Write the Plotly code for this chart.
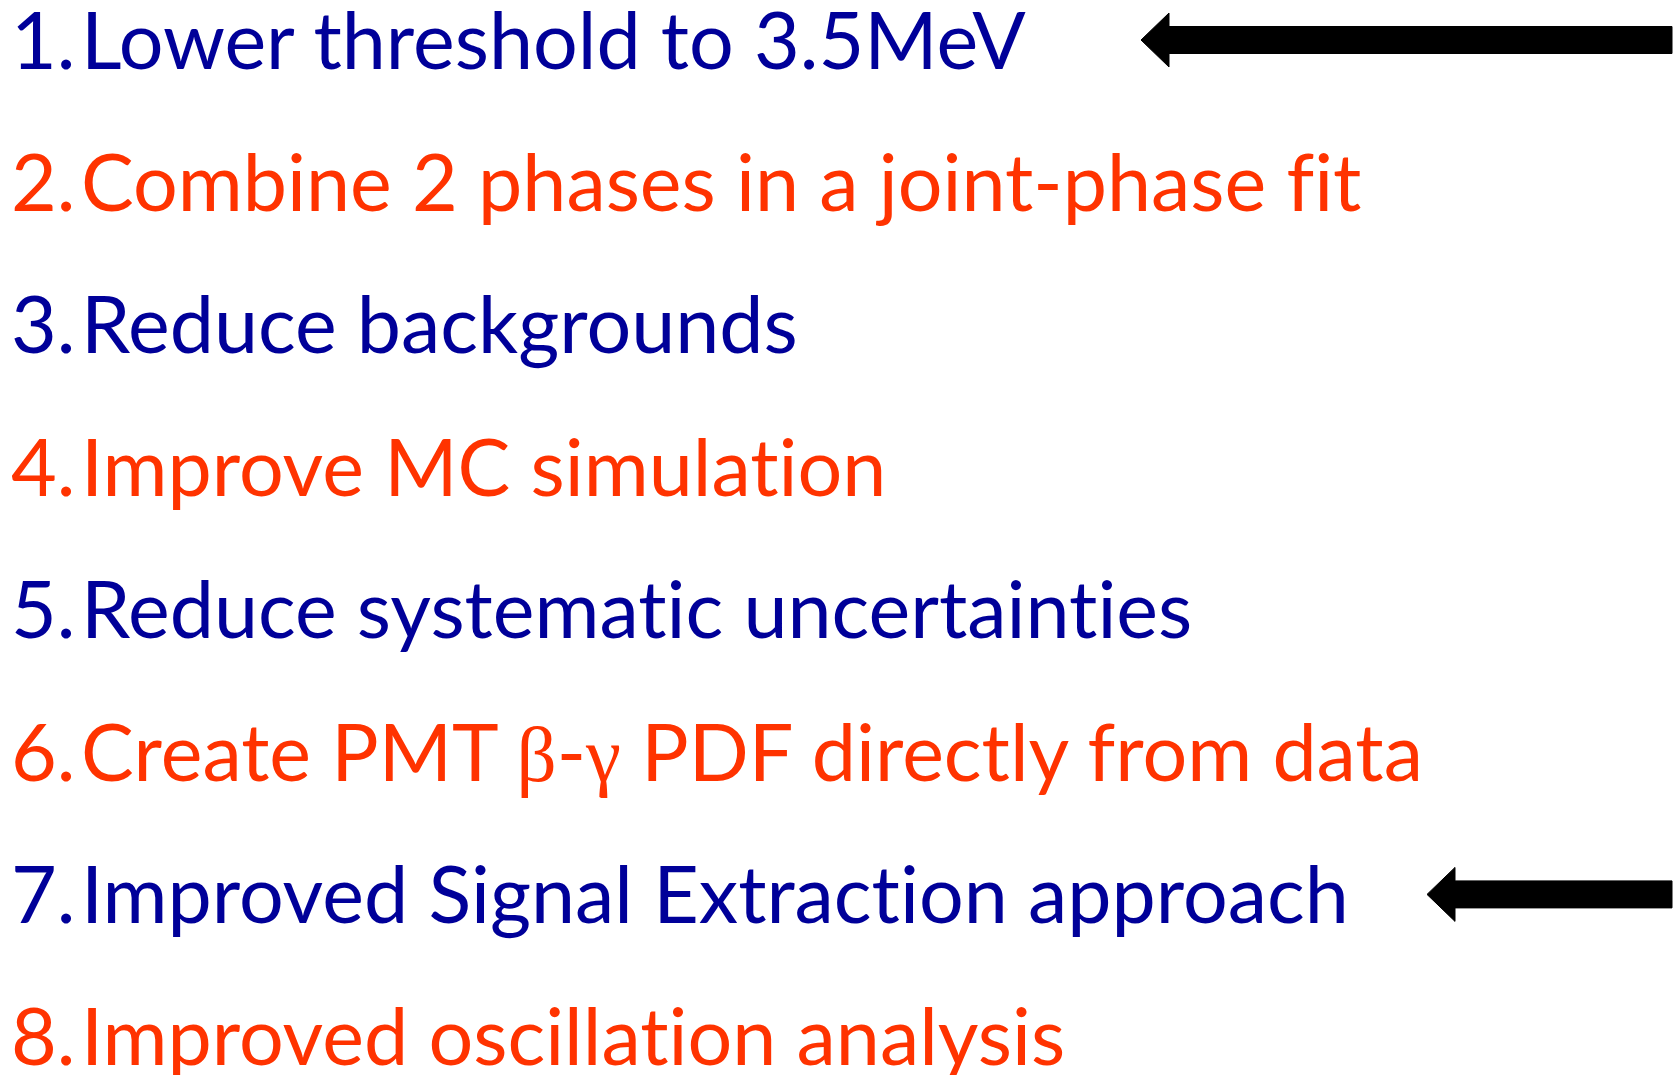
import plotly.graph_objects as go

# ---- content ----
numbers = ["1.", "2.", "3.", "4.", "5.", "6.", "7.", "8."]
items = [
    "Lower threshold to 3.5MeV",
    "Combine 2 phases in a joint-phase fit",
    "Reduce backgrounds",
    "Improve MC simulation",
    "Reduce systematic uncertainties",
    "Create PMT <span style=\"font-family:'Liberation Serif'\">β</span>-<span style=\"font-family:'Liberation Serif'\">γ</span> PDF directly from data",
    "Improved Signal Extraction approach",
    "Improved oscillation analysis",
]
item_colors = ["#000099", "#FF3300", "#000099", "#FF3300",
               "#000099", "#FF3300", "#000099", "#FF3300"]
arrow_items = [1, 7]  # items marked with an arrow

W, H = 1677, 1075
FONT = "Lato"
FS = 79
base0 = 66
step = 142.4


def no_lig(s):
    # avoid the "ti"/"fi" ligatures of the font
    return s.replace("ti", "t\u200ci").replace("fi", "f\u200ci")


fig = go.Figure()
fig.update_layout(
    width=W, height=H,
    margin=dict(l=0, r=0, t=0, b=0),
    paper_bgcolor="white", plot_bgcolor="white",
    xaxis=dict(range=[0, W], visible=False, fixedrange=True),
    yaxis=dict(range=[H, 0], visible=False, fixedrange=True),
    showlegend=False,
)

annotations = []
for i, (num, txt, col) in enumerate(zip(numbers, items, item_colors)):
    ymid = base0 + step * i - 28
    annotations.append(dict(x=9, y=ymid, xref="x", yref="y", text=num,
                            showarrow=False, xanchor="left", yanchor="middle",
                            font=dict(family=FONT, size=FS, color=col)))
    annotations.append(dict(x=79, y=ymid, xref="x", yref="y", text=no_lig(txt),
                            showarrow=False, xanchor="left", yanchor="middle",
                            font=dict(family=FONT, size=FS, color=col)))
fig.update_layout(annotations=annotations)

# arrows (block arrows pointing left)
arrow_geom = {1: dict(tip=1141, base=1169, end=1672), 7: dict(tip=1427, base=1455, end=1672)}
shapes = []
for n in arrow_items:
    g = arrow_geom[n]
    yc = base0 + step * (n - 1) - 26
    path = (f"M {g['tip']},{yc} L {g['base']},{yc-27} L {g['base']},{yc-13.5} "
            f"L {g['end']},{yc-13.5} L {g['end']},{yc+13.5} L {g['base']},{yc+13.5} "
            f"L {g['base']},{yc+27} Z")
    shapes.append(dict(type="path", path=path, xref="x", yref="y",
                       fillcolor="black", line=dict(color="black", width=1)))
fig.update_layout(shapes=shapes)

fig.write_html("out.html", config={"displayModeBar": False},
               post_script="document.body.style.margin='0';document.body.style.overflow='hidden';")
